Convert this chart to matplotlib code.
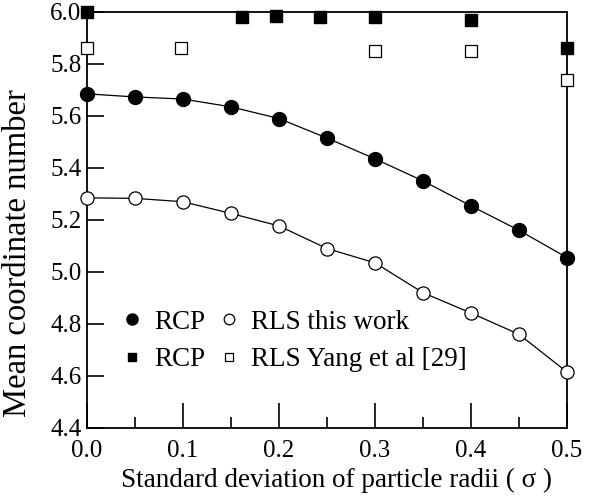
import matplotlib
matplotlib.use("Agg")
import matplotlib.pyplot as plt
from matplotlib.ticker import MultipleLocator

plt.rcParams["font.family"] = ["Liberation Serif", "DejaVu Serif"]

# this work
sigma = [0.0, 0.05, 0.1, 0.15, 0.2, 0.25, 0.3, 0.35, 0.4, 0.45, 0.5]
rcp_this = [5.685, 5.673, 5.665, 5.635, 5.59, 5.515, 5.435, 5.35, 5.254, 5.16, 5.055]
rls_this = [5.285, 5.283, 5.27, 5.225, 5.177, 5.09, 5.035, 4.92, 4.842, 4.76, 4.615]

# Yang et al [29]
sigma_yang_rcp = [0.0, 0.162, 0.197, 0.243, 0.3, 0.4, 0.5]
rcp_yang = [6.0, 5.98, 5.985, 5.98, 5.98, 5.97, 5.86]
sigma_yang_rls = [0.0, 0.098, 0.3, 0.4, 0.5]
rls_yang = [5.86, 5.86, 5.85, 5.85, 5.74]

fig = plt.figure(figsize=(5.95, 4.97), dpi=100)
ax = fig.add_axes([0.146, 0.139, 0.807, 0.837])

ax.plot(sigma, rcp_this, "-", color="black", lw=0.9, zorder=2)
ax.plot(sigma, rls_this, "-", color="black", lw=0.9, zorder=2)
h1, = ax.plot(sigma, rcp_this, "o", color="black", ms=10, ls="none",
              clip_on=False, zorder=3)
h2, = ax.plot(sigma, rls_this, "o", mfc="white", mec="black", mew=0.9, ms=9.5,
              ls="none", clip_on=False, zorder=3)
h3, = ax.plot(sigma_yang_rcp, rcp_yang, "s", color="black", ms=8, ls="none",
              clip_on=False, zorder=3)
h4, = ax.plot(sigma_yang_rls, rls_yang, "s", mfc="white", mec="black", mew=0.9,
              ms=8, ls="none", clip_on=False, zorder=3)

ax.set_xlim(0, 0.5)
ax.set_ylim(4.4, 6.0)
ax.xaxis.set_major_locator(MultipleLocator(0.1))
ax.xaxis.set_minor_locator(MultipleLocator(0.05))
ax.yaxis.set_major_locator(MultipleLocator(0.2))
ax.xaxis.set_major_formatter(plt.FormatStrFormatter("%.1f"))
ax.yaxis.set_major_formatter(plt.FormatStrFormatter("%.1f"))
ax.tick_params(axis="both", which="major", direction="in", labelsize=18,
               width=1.2)
ax.tick_params(axis="x", which="major", length=18, pad=9)
ax.tick_params(axis="x", which="minor", direction="in", length=8, width=1.2)
ax.tick_params(axis="y", which="major", length=12, pad=4)
for s in ax.spines.values():
    s.set_linewidth(1.3)

ax.set_xlabel("Standard deviation of particle radii ( σ )", fontsize=19.5)
ax.xaxis.set_label_coords(0.52, -0.095)
ax.set_ylabel("Mean coordinate number", fontsize=23.5)
ax.yaxis.set_label_coords(-0.112, 0.42)

ax.legend([h1, h3, h2, h4],
          ["RCP", "RCP", "RLS this work", "RLS Yang et al [29]"],
          ncol=2, frameon=False, fontsize=19.5, loc="upper left",
          bbox_to_anchor=(0.055, 0.31), handlelength=0.6, handletextpad=0.5,
          columnspacing=0.6, labelspacing=0.45, markerscale=0.8, borderaxespad=0)

fig.savefig("out.png", dpi=100)
